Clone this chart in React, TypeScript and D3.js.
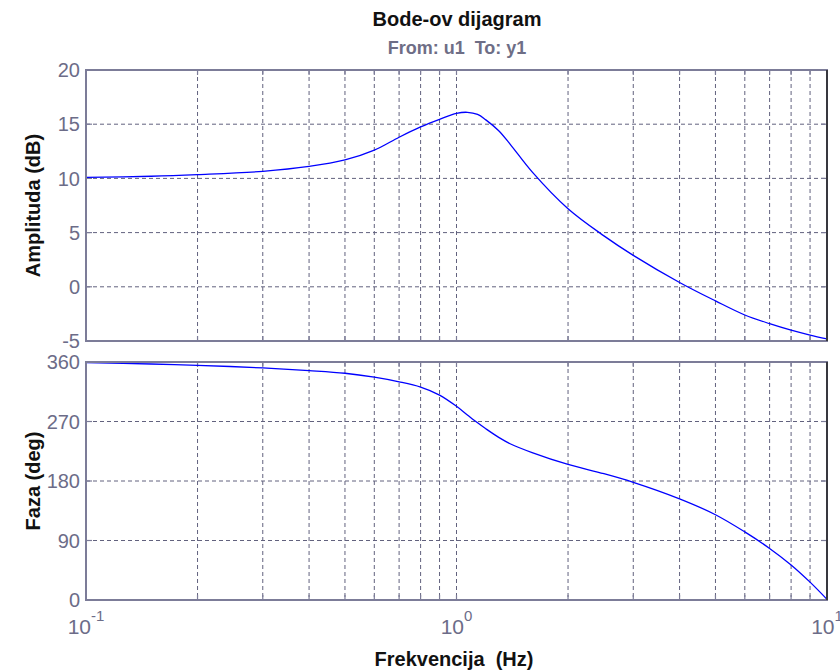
import React, { useEffect, useRef } from "react";
import * as d3 from "d3";

// frequency points (Hz)
const freqs = [0.1, 0.15, 0.2, 0.3, 0.4, 0.5, 0.6, 0.7, 0.8, 0.9, 1.0, 1.07, 1.14, 1.2, 1.3, 1.4, 1.6, 2, 2.5, 3, 4, 5, 6, 7, 8, 9, 10];
const amplitude = [10.1, 10.2, 10.35, 10.65, 11.1, 11.7, 12.6, 13.8, 14.75, 15.45, 16.0, 16.1, 15.9, 15.4, 14.4, 13.1, 10.6, 7.2, 4.7, 2.9, 0.4, -1.3, -2.6, -3.4, -4.0, -4.45, -4.8];
const phase = [359, 357, 355, 351, 347, 343, 337, 330, 322, 310, 293, 280, 268, 259, 246, 236, 223, 205, 191, 178, 153, 129, 103, 78, 53, 27, 1];

const amplitudeTicks = [-5, 0, 5, 10, 15, 20];
const phaseTicks = [0, 90, 180, 270, 360];
const decadeTicks = [-1, 0, 1];

const W = 840;
const H = 671;
const FONT = "'Liberation Sans', Arial, sans-serif";
const GRID = "#62627e";
const BOX = "#7c7c98";
const TICKTEXT = "#6c6c88";

function BodePlot() {
  const svgRef = useRef<SVGSVGElement | null>(null);

  useEffect(() => {
    const svg = d3.select(svgRef.current);
    svg.selectAll("*").remove();

    const left = 86, right = 827;
    const x = d3.scaleLog().domain([0.1, 10]).range([left, right]);

    // minor + major vertical grid positions
    const xGrid: number[] = [];
    [0.1, 1].forEach(d => {
      for (let k = 1; k <= 9; k++) xGrid.push(d * k);
    });
    xGrid.push(10);

    const panels = [
      { y: d3.scaleLinear().domain([-5, 20]).range([341, 70]), ticks: amplitudeTicks, values: amplitude, label: "Amplituda (dB)" },
      { y: d3.scaleLinear().domain([0, 360]).range([600, 362]), ticks: phaseTicks, values: phase, label: "Faza (deg)" }
    ];

    panels.forEach(p => {
      const [yb, yt] = p.y.range();
      const g = svg.append("g");

      // horizontal grid
      g.selectAll("line.hg")
        .data(p.ticks)
        .join("line")
        .attr("x1", left).attr("x2", right)
        .attr("y1", d => p.y(d)).attr("y2", d => p.y(d))
        .attr("stroke", GRID).attr("stroke-width", 1)
        .attr("stroke-dasharray", "4,3");

      // vertical grid
      g.selectAll("line.vg")
        .data(xGrid.filter(d => d > 0.1 && d < 10))
        .join("line")
        .attr("x1", d => x(d)).attr("x2", d => x(d))
        .attr("y1", yt).attr("y2", yb)
        .attr("stroke", GRID).attr("stroke-width", 1)
        .attr("stroke-dasharray", "4,3");

      // tick marks top/bottom
      xGrid.forEach(d => {
        g.append("line").attr("x1", x(d)).attr("x2", x(d)).attr("y1", yt).attr("y2", yt + 5).attr("stroke", BOX).attr("stroke-width", 1.2);
        g.append("line").attr("x1", x(d)).attr("x2", x(d)).attr("y1", yb).attr("y2", yb - 5).attr("stroke", BOX).attr("stroke-width", 1.2);
      });
      p.ticks.forEach(d => {
        g.append("line").attr("x1", left).attr("x2", left + 6).attr("y1", p.y(d)).attr("y2", p.y(d)).attr("stroke", BOX).attr("stroke-width", 1.2);
        g.append("line").attr("x1", right).attr("x2", right - 6).attr("y1", p.y(d)).attr("y2", p.y(d)).attr("stroke", BOX).attr("stroke-width", 1.2);
      });

      // curve
      const line = d3.line<number>()
        .x((_, i) => x(freqs[i]))
        .y(d => p.y(d))
        .curve(d3.curveCatmullRom.alpha(0.5));
      g.append("path")
        .attr("d", line(p.values) as string)
        .attr("fill", "none")
        .attr("stroke", "#0000ff")
        .attr("stroke-width", 1.3);

      // box
      g.append("rect")
        .attr("x", left).attr("y", yt)
        .attr("width", right - left).attr("height", yb - yt)
        .attr("fill", "none").attr("stroke", BOX).attr("stroke-width", 2);
      g.append("line").attr("x1", right).attr("x2", right).attr("y1", yt).attr("y2", yb).attr("stroke", "#222").attr("stroke-width", 1.5);

      // y tick labels
      g.selectAll("text.yt")
        .data(p.ticks)
        .join("text")
        .attr("x", left - 6)
        .attr("y", d => p.y(d))
        .attr("dy", "0.36em")
        .attr("text-anchor", "end")
        .attr("font-family", FONT)
        .attr("font-size", 20)
        .attr("fill", TICKTEXT)
        .text(d => d);

      // y label
      g.append("text")
        .attr("transform", `translate(40, ${(yt + yb) / 2}) rotate(-90)`)
        .attr("text-anchor", "middle")
        .attr("font-family", FONT)
        .attr("font-weight", "bold")
        .attr("font-size", 20)
        .attr("fill", "#111")
        .text(p.label);
    });

    // x tick labels 10^n
    decadeTicks.forEach(e => {
      const t = svg.append("text")
        .attr("x", x(Math.pow(10, e)))
        .attr("y", 634)
        .attr("text-anchor", "middle")
        .attr("font-family", FONT)
        .attr("font-size", 21)
        .attr("fill", TICKTEXT);
      t.append("tspan").text("10");
      t.append("tspan").attr("dy", -13).attr("font-size", 15).text(String(e));
    });

    svg.append("text")
      .attr("x", 454).attr("y", 666)
      .attr("text-anchor", "middle")
      .attr("font-family", FONT).attr("font-weight", "bold").attr("font-size", 20)
      .attr("fill", "#111")
      .style("white-space", "pre")
      .text("Frekvencija  (Hz)");

    svg.append("text")
      .attr("x", 457).attr("y", 26)
      .attr("text-anchor", "middle")
      .attr("font-family", FONT).attr("font-weight", "bold").attr("font-size", 20)
      .attr("fill", "#111")
      .text("Bode-ov dijagram");

    svg.append("text")
      .attr("x", 457).attr("y", 54)
      .attr("text-anchor", "middle")
      .attr("font-family", FONT).attr("font-weight", "bold").attr("font-size", 18)
      .attr("fill", "#6e6e86")
      .style("white-space", "pre")
      .text("From: u1  To: y1");
  }, []);

  return (
    <svg ref={svgRef} width={W} height={H}
      style={{ position: "absolute", left: 0, top: 0, background: "#fff" }} />
  );
}

export default function App() {
  return <BodePlot />;
}
